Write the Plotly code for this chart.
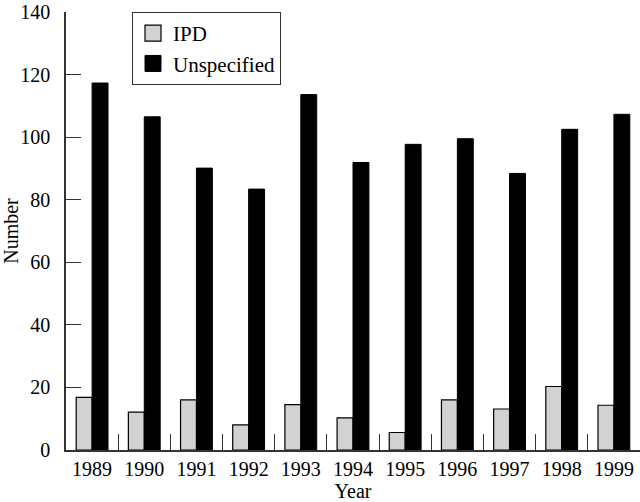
import plotly.graph_objects as go

years = ["1989", "1990", "1991", "1992", "1993", "1994", "1995", "1996", "1997", "1998", "1999"]
ipd = [16.8, 12.1, 16.0, 8.0, 14.5, 10.3, 5.6, 16.0, 13.1, 20.3, 14.3]
unspecified = [117.3, 106.5, 90.1, 83.4, 113.6, 91.9, 97.7, 99.5, 88.4, 102.5, 107.3]
y_ticks = [0, 20, 40, 60, 80, 100, 120, 140]

FONT = "Liberation Serif"
GREY = "#d2d2d2"

fig = go.Figure()
fig.add_trace(go.Bar(x=years, y=ipd, name="IPD", marker=dict(color=GREY, line=dict(color="black", width=1.2)),
                     showlegend=False))
fig.add_trace(go.Bar(x=years, y=unspecified, name="Unspecified",
                     marker=dict(color="black", line=dict(color="black", width=1)), showlegend=False))
# legend entries with larger square swatches
fig.add_trace(go.Scatter(x=[None], y=[None], mode="markers", name="IPD",
                         marker=dict(symbol="square", size=16, color=GREY, line=dict(color="black", width=1.2))))
fig.add_trace(go.Scatter(x=[None], y=[None], mode="markers", name="Unspecified",
                         marker=dict(symbol="square", size=16, color="black", line=dict(color="black", width=1))))

fig.update_layout(
    width=640, height=502,
    margin=dict(l=66, r=0, t=12, b=52),
    paper_bgcolor="white", plot_bgcolor="white",
    font=dict(family=FONT, size=20, color="black"),
    barmode="group", bargap=0.39, bargroupgap=0,
    legend=dict(x=0.115, y=1.0, xanchor="left", yanchor="top",
                bordercolor="#333", borderwidth=1, bgcolor="white",
                font=dict(family=FONT, size=21)),
    xaxis=dict(type="category", showline=True, linecolor="#333", linewidth=1.5,
               ticks="inside", ticklen=16, tickcolor="#333", tickwidth=1, tickson="boundaries",
               showgrid=False, zeroline=False, range=[-0.5, 10.5], automargin=False,
               ticklabeloverflow="allow", ticklabelstandoff=0,
               title=dict(text="Year", standoff=5, font=dict(size=20))),
    yaxis=dict(range=[0, 140], tickvals=y_ticks, showline=True, linecolor="#333", linewidth=1.5,
               ticks="inside", ticklen=15, tickcolor="#333", tickwidth=1.2,
               showgrid=False, zeroline=False, ticklabelstandoff=10, automargin=False,
               ticklabeloverflow="allow",
               title=dict(text="Number", standoff=4, font=dict(size=20))),
)

fig.write_html("out.html", config={"displayModeBar": False},
               post_script="document.body.style.margin='0';")
